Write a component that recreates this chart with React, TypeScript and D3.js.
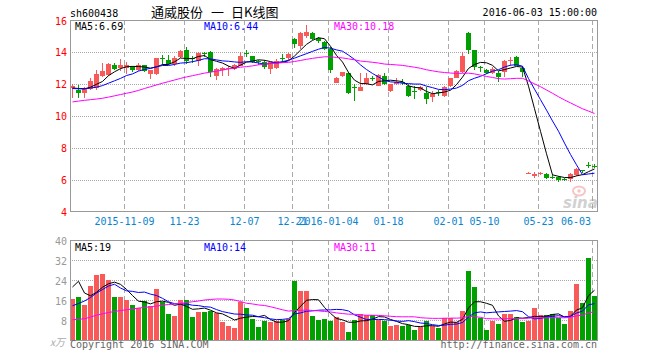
import React from "react";
import * as d3 from "d3";

// ---- data ----
const open = [
  11.75, 11.65, 11.45, 11.7, 11.75, 12.5, 12.55, 13.2, 13.0, 13.0,
  13.05, 12.9, 13.2, 12.6, 12.6, 13.65, 13.48, 13.25, 13.7, 14.1,
  13.65, 13.45, 13.95, 14.0, 12.5, 12.9, 12.95, 12.95, 13.15, 13.92,
  13.75, 13.42, 13.4, 12.92, 13.0, 13.6, 13.6, 14.8, 14.35, 15.0,
  15.2, 14.85, 14.65, 14.2, 12.08, 12.5, 12.7, 11.82, 11.58, 12.0,
  12.37, 11.9, 12.5, 11.58, 12.0, 12.14, 11.85, 11.54, 11.6, 11.45,
  11.2, 11.5, 11.25, 11.9, 12.4, 12.75, 15.2, 14.1, 13.05, 12.88,
  12.68, 12.7, 12.75, 13.45, 13.7, 13.02, 6.43, 6.25, 6.4, 6.4,
  6.2, 6.2, 6.05, 6.05, 6.3, 6.62, 6.96, 6.9,
];
const high = [
  12.0, 11.95, 11.8, 12.35, 12.9, 13.3, 13.3, 13.3, 13.55, 13.35,
  13.15, 13.3, 13.2, 12.9, 13.65, 13.8, 13.8, 13.75, 14.1, 14.3,
  13.75, 14.0, 14.0, 14.05, 13.0, 13.05, 13.1, 13.25, 14.0, 14.1,
  13.75, 13.5, 13.5, 13.4, 13.55, 13.9, 13.95, 14.9, 15.25, 15.7,
  15.25, 14.95, 14.7, 14.3, 12.45, 12.75, 12.72, 12.0, 12.7, 12.7,
  12.5, 12.65, 12.7, 12.0, 12.4, 12.3, 12.0, 11.85, 11.85, 11.8,
  11.55, 11.6, 11.85, 12.4, 12.85, 14.0, 15.25, 14.15, 13.1, 12.95,
  13.05, 12.8, 13.5, 13.7, 13.75, 13.1, 6.5, 6.5, 6.5, 6.45,
  6.35, 6.25, 6.15, 6.45, 6.75, 6.65, 7.1, 7.0,
];
const low = [
  11.1, 11.15, 11.15, 11.6, 11.6, 12.45, 12.5, 12.9, 12.8, 12.6,
  12.75, 12.8, 12.75, 12.3, 12.55, 13.2, 13.2, 13.1, 13.6, 13.25,
  13.3, 13.15, 13.7, 12.45, 12.25, 12.5, 12.5, 12.9, 13.1, 13.7,
  13.3, 13.2, 12.95, 12.6, 12.95, 13.35, 13.5, 14.25, 14.2, 14.9,
  14.75, 14.55, 14.1, 12.7, 12.05, 12.45, 11.4, 10.95, 11.55, 11.95,
  12.2, 11.85, 11.95, 11.5, 11.95, 11.95, 11.2, 11.05, 11.55, 10.75,
  10.85, 11.25, 11.2, 11.8, 12.35, 12.7, 13.88, 12.9, 12.75, 12.6,
  12.62, 12.15, 12.45, 13.15, 13.1, 12.45, 6.35, 6.15, 6.3, 6.05,
  6.05, 5.9, 5.95, 5.85, 6.25, 6.45, 6.75, 6.75,
];
const close = [
  11.9, 11.45, 11.75, 12.2, 12.6, 12.8, 13.25, 12.95, 13.2, 13.2,
  12.9, 13.2, 12.8, 12.85, 13.6, 13.62, 13.25, 13.6, 14.05, 13.45,
  13.55, 13.95, 13.9, 12.75, 12.95, 13.0, 13.0, 13.2, 13.75, 13.88,
  13.35, 13.38, 13.05, 13.35, 13.45, 13.55, 13.88, 14.5, 15.2, 15.25,
  14.8, 14.7, 14.2, 12.85, 12.4, 12.72, 11.45, 11.78, 11.8, 12.35,
  12.33, 12.55, 11.98, 11.98, 12.15, 12.1, 11.22, 11.5, 11.8, 11.05,
  11.4, 11.45, 11.8, 12.35, 12.8, 13.75, 14.15, 13.05, 13.0, 12.68,
  12.95, 12.42, 13.45, 13.5, 13.15, 12.78, 6.45, 6.4, 6.43, 6.15,
  6.18, 6.0, 6.02, 6.4, 6.68, 6.58, 6.92, 6.88,
];
const volume = [
  16.5, 17.1, 14.1, 21.7, 26.1, 26.5, 24.1, 17.3, 17.3, 16.1,
  14.1, 12.8, 15.7, 13.5, 20.5, 15.2, 10.4, 9.7, 16.0, 16.0,
  9.3, 11.3, 11.3, 11.7, 10.8, 7.1, 5.5, 4.9, 15.3, 12.9,
  8.4, 5.1, 7.5, 7.1, 7.6, 8.2, 8.3, 23.7, 19.7, 19.5,
  9.7, 7.9, 8.4, 7.7, 9.3, 7.1, 3.1, 8.1, 10.5, 9.9,
  10.1, 8.1, 7.5, 5.5, 6.1, 5.5, 6.1, 4.1, 5.1, 7.7,
  5.7, 4.8, 8.8, 8.8, 7.2, 11.7, 27.7, 21.1, 8.8, 4.1,
  7.7, 6.5, 10.4, 10.4, 9.3, 7.1, 7.7, 12.8, 10.1, 10.1,
  10.4, 8.8, 6.5, 11.7, 22.5, 14.9, 33.0, 17.5,
];

// moving-average values before a full window exists (history not shown in the chart)
const priceMa5Lead = [11.75, 11.72, 11.7, 11.8];
const priceMa10Lead = [11.72, 11.7, 11.7, 11.75, 11.8, 11.9, 12.05, 12.2, 12.35];
const priceMa30Lead = [
  10.88, 10.93, 10.98, 11.02, 11.06, 11.11, 11.18, 11.26, 11.34, 11.42,
  11.5, 11.6, 11.72, 11.83, 11.94, 12.05, 12.15, 12.25, 12.35, 12.44,
  12.52, 12.6, 12.68, 12.74, 12.8, 12.87, 12.94, 13.0, 13.05,
];
const volMa5Lead = [21.2, 23.5, 18.8, 17.7];
const volMa10Lead = [13.7, 14.6, 15.6, 17.0, 18.8, 20.2, 21.6, 22.3, 20.8];
const volMa30Lead = [
  8.1, 8.3, 8.5, 9.2, 9.9, 10.5, 11.0, 11.4, 11.8, 12.1,
  12.4, 12.8, 13.0, 13.3, 13.6, 13.9, 14.2, 14.4, 14.6, 15.0,
  15.3, 15.6, 16.0, 16.2, 16.4, 16.4, 16.3, 16.0, 15.4,
];

const tickIndex = [9, 19, 29, 37, 43, 53, 63, 69, 78, 87];
const tickLabels = ["2015-11-09", "11-23", "12-07", "12-21", "2016-01-04", "01-18", "02-01", "05-10", "05-23", "06-03"];
const priceTicks = [4, 6, 8, 10, 12, 14, 16];
const volTicks = [8, 16, 24, 32, 40];
const priceMaText = ["MA5:6.69", "MA10:6.44", "MA30:10.18"];
const volMaText = ["MA5:19", "MA10:14", "MA30:11"];

const RED = "#f85a5a";
const GREEN = "#00a000";
const MONO = "'DejaVu Sans Mono', 'Liberation Mono', monospace";
const CJK = "'Noto Sans CJK SC', sans-serif";

function movingAverage(values: number[], n: number, lead: number[]) {
  return values.map((_, i) =>
    i < n - 1 ? lead[i] : (d3.mean(values.slice(i - n + 1, i + 1)) as number)
  );
}

export default function App() {
  const N = close.length;
  const idx = d3.range(N);
  const left = 70, right = 597;
  const x = d3.scaleBand<number>().domain(idx).range([left, right]).paddingInner(1 / 6).paddingOuter(0);
  const bw = x.bandwidth();
  const cx = (i: number) => (x(i) as number) + bw / 2;

  const yP = d3.scaleLinear().domain([4, 16]).range([212, 20]);
  const yV = d3.scaleLinear().domain([0, 40]).range([340, 240]);

  const pMa = [
    movingAverage(close, 5, priceMa5Lead),
    movingAverage(close, 10, priceMa10Lead),
    movingAverage(close, 30, priceMa30Lead),
  ];
  const vMa = [
    movingAverage(volume, 5, volMa5Lead),
    movingAverage(volume, 10, volMa10Lead),
    movingAverage(volume, 30, volMa30Lead),
  ];
  const maColors = ["#000000", "#0000ff", "#ff00ff"];
  const maTextX = [75, 204, 334];

  const lineP = (arr: number[]) =>
    d3.line<number>().x((_, i) => cx(i)).y((d) => yP(d))(arr) as string;
  const lineV = (arr: number[]) =>
    d3.line<number>().x((_, i) => cx(i)).y((d) => yV(d))(arr) as string;

  const colorOf = (i: number) => (close[i] >= open[i] ? RED : GREEN);
  const labelX = (ti: number, label: string) => {
    const gx = (x(ti) as number) + 0.5;
    const half = (label.length * 6) / 2;
    return Math.min(gx, right - 6 - half);
  };

  return (
    <svg width={660} height={360} style={{ display: "block", position: "absolute", left: 0, top: 0, background: "#fff" }}>
      {/* header */}
      <text x={70} y={16.5} fontFamily={MONO} fontSize={10} fill="#000">sh600438</text>
      <text y={16.5} fontFamily={CJK} fontSize={13} fill="#000">
        <tspan x={151}>通威股份</tspan>
        <tspan x={211}>一</tspan>
        <tspan x={231}>日K线图</tspan>
      </text>
      <text x={597} y={16} textAnchor="end" fontFamily={MONO} fontSize={10} fill="#000">2016-06-03 15:00:00</text>

      {/* price grid */}
      {priceTicks.filter((t) => t > 4 && t < 16).map((t) => (
        <line key={"pg" + t} x1={left} x2={right} y1={yP(t) + 0.5} y2={yP(t) + 0.5} stroke="#aaa" strokeDasharray="1,1" />
      ))}
      {tickIndex.map((ti) => (
        <line key={"pv" + ti} x1={(x(ti) as number) + 0.5} x2={(x(ti) as number) + 0.5} y1={20} y2={211} stroke="#aaa" strokeDasharray="5,3" />
      ))}
      {/* volume grid */}
      {volTicks.filter((t) => t < 40).map((t) => (
        <line key={"vg" + t} x1={left} x2={right} y1={yV(t) + 0.5} y2={yV(t) + 0.5} stroke="#aaa" strokeDasharray="1,1" />
      ))}
      {tickIndex.map((ti) => (
        <line key={"vv" + ti} x1={(x(ti) as number) + 0.5} x2={(x(ti) as number) + 0.5} y1={240} y2={340} stroke="#aaa" strokeDasharray="5,3" />
      ))}

      {/* watermark */}
      <g opacity={0.45}>
        <ellipse cx={579} cy={191} rx={6} ry={4.5} fill="none" stroke="#f08080" strokeWidth={2} />
        <circle cx={579} cy={191} r={1.8} fill="#f08080" />
        <text x={563} y={208} fontFamily="'DejaVu Sans', sans-serif" fontSize={15} fontWeight="bold" fontStyle="italic" fill="#9a9a9a">sina</text>
      </g>

      {/* candles */}
      {idx.map((i) => {
        const c = colorOf(i);
        const top = Math.round(yP(Math.max(open[i], close[i])));
        const bot = Math.round(yP(Math.min(open[i], close[i])));
        return (
          <g key={"c" + i}>
            <line x1={cx(i)} x2={cx(i)} y1={Math.round(yP(high[i]))} y2={Math.round(yP(low[i]))} stroke={c} strokeWidth={1} />
            <rect x={x(i)} y={top} width={bw} height={Math.max(1, bot - top)} fill={c} />
          </g>
        );
      })}

      {/* volume bars */}
      {idx.map((i) => (
        <rect key={"v" + i} x={x(i)} y={Math.round(yV(volume[i]))} width={bw} height={340 - Math.round(yV(volume[i])) + 1} fill={colorOf(i)} />
      ))}

      {/* MA lines */}
      {pMa.map((arr, k) => (
        <path key={"pm" + k} d={lineP(arr)} fill="none" stroke={maColors[k]} strokeWidth={1} />
      ))}
      {vMa.map((arr, k) => (
        <path key={"vm" + k} d={lineV(arr)} fill="none" stroke={maColors[k]} strokeWidth={1} />
      ))}

      {/* borders */}
      <rect x={left + 0.5} y={20.5} width={right - left} height={191} fill="none" stroke="#999" />
      <rect x={left + 0.5} y={240.5} width={right - left} height={100} fill="none" stroke="#999" />

      {/* MA labels */}
      {priceMaText.map((t, k) => (
        <text key={"pt" + k} x={maTextX[k]} y={29.5} fontFamily={MONO} fontSize={10} fill={maColors[k]}>{t}</text>
      ))}
      {volMaText.map((t, k) => (
        <text key={"vt" + k} x={maTextX[k]} y={250.5} fontFamily={MONO} fontSize={10} fill={maColors[k]}>{t}</text>
      ))}

      {/* y axis labels */}
      {priceTicks.map((t) => (
        <text key={"py" + t} x={67} y={Math.max(yP(t) + 4, 25)} textAnchor="end" fontFamily={MONO} fontSize={10} fill="#ff0000">{t}</text>
      ))}
      {volTicks.map((t) => (
        <text key={"vy" + t} x={67} y={yV(t) + 4.5} textAnchor="end" fontFamily={MONO} fontSize={10} fill="#999">{t}</text>
      ))}
      <text x={50} y={346} fontFamily={CJK} fontSize={10} fontStyle="italic" fill="#aaa">x万</text>

      {/* x axis labels */}
      {tickIndex.map((ti, k) => (
        <text key={"xl" + k} x={labelX(ti, tickLabels[k])} y={225} textAnchor="middle" fontFamily={MONO} fontSize={10} fill="#0a84d0">{tickLabels[k]}</text>
      ))}

      {/* footer */}
      <text x={70} y={348} fontFamily={MONO} fontSize={10} fill="#666">Copyright 2016 SINA.COM</text>
      <text x={597} y={348} textAnchor="end" fontFamily={MONO} fontSize={10} fill="#666">http://finance.sina.com.cn</text>
    </svg>
  );
}
